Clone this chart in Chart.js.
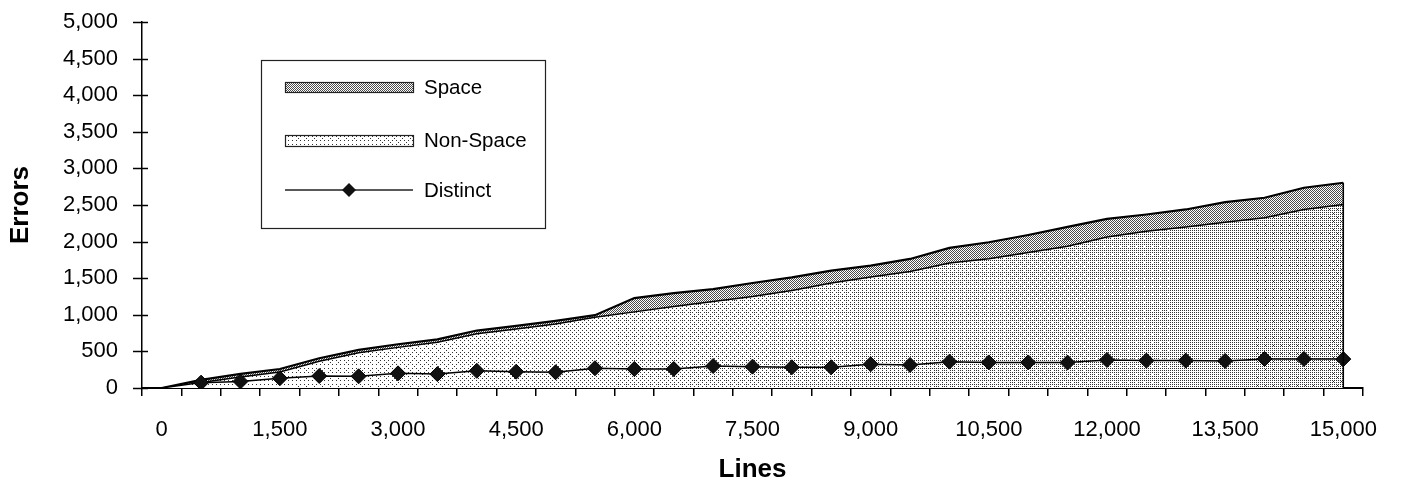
<!DOCTYPE html>
<html>
<head>
<meta charset="utf-8">
<title>Errors by lines</title>
<script src="https://cdn.jsdelivr.net/npm/chart.js@4.4.0/dist/chart.umd.min.js"></script>
<style>
  html, body { margin: 0; padding: 0; background: #fff; }
  #wrap { width: 1401px; height: 487px; }
</style>
</head>
<body>
<div id="wrap"><canvas id="errorsChart" width="1401" height="487"></canvas></div>
<script>
// Lines processed (one category every 500 lines)
const lineCounts = [0, 500, 1000, 1500, 2000, 2500, 3000, 3500, 4000, 4500, 5000,
  5500, 6000, 6500, 7000, 7500, 8000, 8500, 9000, 9500, 10000,
  10500, 11000, 11500, 12000, 12500, 13000, 13500, 14000, 14500, 15000];

// Errors that are not about spacing (bottom of the stack)
const nonSpaceErrors = [0, 75, 150, 220, 365, 480, 555, 625, 740, 805, 875,
  965, 1040, 1114, 1182, 1251, 1333, 1434, 1517, 1593, 1708,
  1767, 1850, 1936, 2064, 2142, 2201, 2265, 2325, 2439, 2507];

// Spacing errors, stacked on top of the others
const spaceErrors = [0, 35, 42, 40, 41, 40, 43, 40, 45, 44, 43,
  30, 189, 183, 170, 183, 178, 169, 154, 170, 206,
  224, 240, 265, 247, 228, 238, 274, 274, 297, 297];

// Distinct errors (line with diamonds), no marker at 0
const distinctErrors = [null, 73, 90, 133, 164, 160, 200, 190, 235, 223, 215,
  270, 260, 260, 300, 292, 283, 283, 324, 315, 360,
  350, 350, 347, 383, 374, 374, 370, 397, 397, 395];

const seriesNames = ["Space", "Non-Space", "Distinct"];

const FONT = '"Liberation Sans", Arial, Helvetica, sans-serif';
Chart.defaults.font.family = FONT;
Chart.defaults.color = "#000";

// Fine checker texture for the Space band
function make_space_pattern(ctx) {
  const c = document.createElement("canvas");
  c.width = 4; c.height = 4;
  const g = c.getContext("2d");
  g.fillStyle = "#fff";
  g.fillRect(0, 0, 4, 4);
  g.fillStyle = "#4a4a4a";
  for (let y = 0; y < 4; y++) {
    for (let x = 0; x < 4; x++) {
      if ((x + y) % 2 === 0) g.fillRect(x, y, 1, 1);
    }
  }
  return ctx.createPattern(c, "repeat");
}

// Ordered-dither stipple that gets denser towards the right
function make_stipple_pattern(ctx, w, h, x0, x1) {
  // 8x8 Bayer matrix
  let m = [[0]];
  for (let n = 1; n < 8; n *= 2) {
    const next = [];
    for (let y = 0; y < n * 2; y++) {
      next.push([]);
      for (let x = 0; x < n * 2; x++) {
        const v = m[y % n][x % n] * 4;
        const q = (y < n ? 0 : 2) + (x < n ? 0 : 1);
        next[y].push(v + [0, 2, 3, 1][q]);
      }
    }
    m = next;
  }
  const c = document.createElement("canvas");
  c.width = w; c.height = h;
  const g = c.getContext("2d");
  const img = g.createImageData(w, h);
  for (let y = 0; y < h; y++) {
    for (let x = 0; x < w; x++) {
      const t = Math.min(1, Math.max(0, (x - x0) / (x1 - x0)));
      const density = 0.04 + 0.24 * t;
      const on = (m[y % 8][x % 8] + 0.5) / 64 < density;
      const k = (y * w + x) * 4;
      const v = on ? 50 : 255;
      img.data[k] = v; img.data[k + 1] = v; img.data[k + 2] = v; img.data[k + 3] = 255;
    }
  }
  g.putImageData(img, 0, 0);
  return ctx.createPattern(c, "no-repeat");
}

const canvas = document.getElementById("errorsChart");
const ctx = canvas.getContext("2d");
const spacePattern = make_space_pattern(ctx);
const stipplePattern = make_stipple_pattern(ctx, canvas.width, canvas.height, 142, 1363);

// Excel style cross tick marks on the value axis
const crossTicks = {
  id: "crossTicks",
  afterDraw(chart) {
    const y = chart.scales.y;
    const left = chart.chartArea.left;
    const c = chart.ctx;
    c.save();
    c.strokeStyle = "#000";
    c.lineWidth = 1.5;
    y.ticks.forEach(t => {
      const py = Math.round(y.getPixelForValue(t.value)) + 0.5;
      c.beginPath();
      c.moveTo(left - 9, py);
      c.lineTo(left + 6, py);
      c.stroke();
    });
    c.restore();
  }
};

// Closes the stacked area on its right side
const areaEdge = {
  id: "areaEdge",
  afterDatasetsDraw(chart) {
    const last = lineCounts.length - 1;
    const x = chart.scales.x.getPixelForValue(last);
    const top = chart.scales.y.getPixelForValue(nonSpaceErrors[last] + spaceErrors[last]);
    const bottom = chart.scales.y.getPixelForValue(0);
    const c = chart.ctx;
    c.save();
    c.strokeStyle = "#000";
    c.lineWidth = 1.5;
    c.beginPath();
    c.moveTo(x, top);
    c.lineTo(x, bottom);
    c.stroke();
    c.restore();
  }
};

// Boxed legend in the upper left of the plot
const boxLegend = {
  id: "boxLegend",
  afterDraw(chart) {
    const c = chart.ctx;
    const box = { left: 261, top: 60, width: 284, height: 168 };
    const swX = 285, swW = 128, textX = 424;
    c.save();
    c.fillStyle = "#fff";
    c.fillRect(box.left, box.top, box.width, box.height);
    c.strokeStyle = "#222";
    c.lineWidth = 1.2;
    c.strokeRect(box.left + 0.5, box.top + 0.5, box.width, box.height);

    // Space swatch
    c.fillStyle = spacePattern;
    c.fillRect(swX, 82, swW, 10);
    c.lineWidth = 1.2;
    c.strokeRect(swX + 0.5, 82.5, swW, 10);
    // Non-Space swatch
    c.fillStyle = stipplePattern;
    c.fillRect(swX, 135, swW, 11);
    c.strokeRect(swX + 0.5, 135.5, swW, 11);
    // Distinct line and diamond
    c.lineWidth = 1.5;
    c.beginPath();
    c.moveTo(swX, 190);
    c.lineTo(swX + swW, 190);
    c.stroke();
    c.fillStyle = "#111";
    c.beginPath();
    c.moveTo(349 - 7, 190);
    c.lineTo(349, 190 - 7);
    c.lineTo(349 + 7, 190);
    c.lineTo(349, 190 + 7);
    c.closePath();
    c.fill();

    c.fillStyle = "#000";
    c.font = "20.5px " + FONT;
    c.textBaseline = "middle";
    c.fillText(seriesNames[0], textX, 88);
    c.fillText(seriesNames[1], textX, 141);
    c.fillText(seriesNames[2], textX, 191);
    c.restore();
  }
};

new Chart(ctx, {
  type: "line",
  data: {
    labels: lineCounts.map(v => v.toLocaleString("en-US")),
    datasets: [
      {
        label: seriesNames[1],
        data: nonSpaceErrors,
        stack: "errors",
        order: 1,
        fill: "origin",
        backgroundColor: stipplePattern,
        borderColor: "#000",
        borderWidth: 1.5,
        pointRadius: 0,
        tension: 0
      },
      {
        label: seriesNames[0],
        data: spaceErrors,
        stack: "errors",
        order: 2,
        fill: "-1",
        backgroundColor: spacePattern,
        borderColor: "#000",
        borderWidth: 2.2,
        pointRadius: 0,
        tension: 0
      },
      {
        label: seriesNames[2],
        data: distinctErrors,
        stack: "distinct",
        order: 0,
        fill: false,
        borderColor: "#000",
        borderWidth: 1.5,
        pointStyle: "rectRot",
        pointRadius: 7.5,
        pointBackgroundColor: "#111",
        pointBorderColor: "#000",
        pointBorderWidth: 1,
        tension: 0
      }
    ]
  },
  options: {
    responsive: false,
    animation: false,
    layout: { padding: { left: 0, right: 38, top: 22, bottom: 0 } },
    plugins: {
      legend: { display: false },
      tooltip: { enabled: false }
    },
    scales: {
      x: {
        type: "category",
        offset: true,
        grid: { offset: true, drawOnChartArea: false, tickLength: 8, color: "#000", lineWidth: 1.5 },
        border: { color: "#000", width: 2 },
        ticks: {
          autoSkip: false,
          maxRotation: 0,
          padding: 21,
          font: { size: 22 },
          color: "#000",
          // only every third category gets a label
          callback(value, index) {
            return index % 3 === 0 ? this.getLabelForValue(value) : "";
          }
        },
        title: { display: true, text: "Lines", font: { size: 26, weight: "bold" }, padding: { top: 0, bottom: 2 } },
        afterFit(scale) { scale.height = 99; }
      },
      y: {
        stacked: true,
        min: 0,
        max: 5000,
        // tick marks are drawn by crossTicks, this only keeps the labels clear of the axis
        grid: { drawOnChartArea: false, drawTicks: true, tickLength: 21, tickColor: "rgba(0,0,0,0)" },
        border: { color: "#000", width: 1.5 },
        ticks: {
          stepSize: 500,
          padding: 3,
          font: { size: 22 },
          color: "#000",
          callback: v => v.toLocaleString("en-US")
        },
        title: { display: true, text: "Errors", font: { size: 26, weight: "bold" }, padding: { top: 5, bottom: 0 } },
        afterFit(scale) { scale.width = 142; }
      }
    }
  },
  plugins: [crossTicks, areaEdge, boxLegend]
});
</script>
</body>
</html>
